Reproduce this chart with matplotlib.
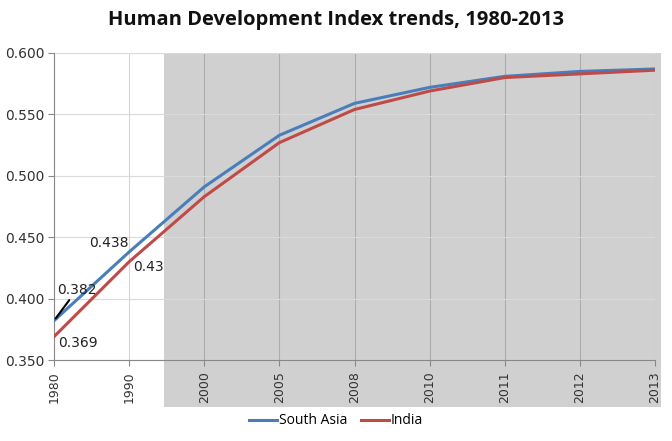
import matplotlib
matplotlib.use("Agg")
import matplotlib.pyplot as plt
from matplotlib.patches import Rectangle

years = ["1980", "1990", "2000", "2005", "2008", "2010", "2011", "2012", "2013"]
south_asia = [0.382, 0.438, 0.491, 0.533, 0.559, 0.572, 0.581, 0.585, 0.587]
india = [0.369, 0.430, 0.483, 0.527, 0.554, 0.569, 0.580, 0.583, 0.586]
yticks = [0.350, 0.400, 0.450, 0.500, 0.550, 0.600]

W, H = 672, 441
fig = plt.figure(figsize=(W / 100, H / 100), dpi=100)
fig.patch.set_facecolor("white")

# shaded panel behind right part
fig.patches.append(Rectangle((164 / W, 1 - 407 / H), (661 - 164) / W, (407 - 53) / H,
                             transform=fig.transFigure, facecolor="#d0d0d0",
                             edgecolor="none", zorder=0))

ax = fig.add_axes([54 / W, 1 - 360 / H, (655 - 54) / W, (360 - 53) / H])
ax.set_zorder(2)
ax.set_facecolor("none")
x = list(range(len(years)))
ax.plot(x, south_asia, color="#4a7ebb", lw=2.2, label="South Asia", zorder=3)
ax.plot(x, india, color="#be4b48", lw=2.2, label="India", zorder=3)

ax.set_xlim(0, len(years) - 1)
ax.set_ylim(0.35, 0.60)
ax.set_yticks(yticks)
ax.set_yticklabels([f"{v:.3f}" for v in yticks], fontsize=10, color="#333333")
ax.set_xticks(x)
ax.set_xticklabels(years, rotation=90, fontsize=9, color="#333333")
ax.xaxis.grid(True, color="black", alpha=0.17, lw=0.8)
ax.yaxis.grid(True, color="#dadada", lw=0.8)
ax.set_axisbelow(True)
for s in ["top", "right"]:
    ax.spines[s].set_visible(False)
for s in ["left", "bottom"]:
    ax.spines[s].set_color("#888888")
ax.tick_params(axis="both", length=4, color="#888888", pad=3)
ax.tick_params(axis="x", pad=4)

# data labels
ax.annotate(f"{south_asia[0]:.3f}", xy=(0, south_asia[0]), xytext=(2, 19),
            textcoords="offset points", fontsize=10, color="#222222",
            arrowprops=dict(arrowstyle="-", color="black", lw=1.5, shrinkA=0, shrinkB=2))
ax.text(0.99, south_asia[1] + 0.007, f"{south_asia[1]:.3f}", ha="right", va="center",
        fontsize=10, color="#222222")
ax.text(1.26, india[1] - 0.0045, f"{india[1]:g}", ha="center", va="center",
        fontsize=10, color="#222222")
ax.text(0.05, india[0] - 0.0055, f"{india[0]:.3f}", ha="left", va="center",
        fontsize=10, color="#222222")

fig.text(0.5, 1 - 20 / H, "Human Development Index trends, 1980-2013", ha="center",
         va="center", fontsize=14.5, fontweight="bold", family="Open Sans", color="#111111")

fig.legend(loc="center", bbox_to_anchor=(0.5, 1 - 421 / H), ncol=2, frameon=False,
           prop={"family": "Open Sans", "size": 10}, handlelength=2.0,
           handletextpad=0.15, columnspacing=1.0)

fig.savefig("out.png", dpi=100)
